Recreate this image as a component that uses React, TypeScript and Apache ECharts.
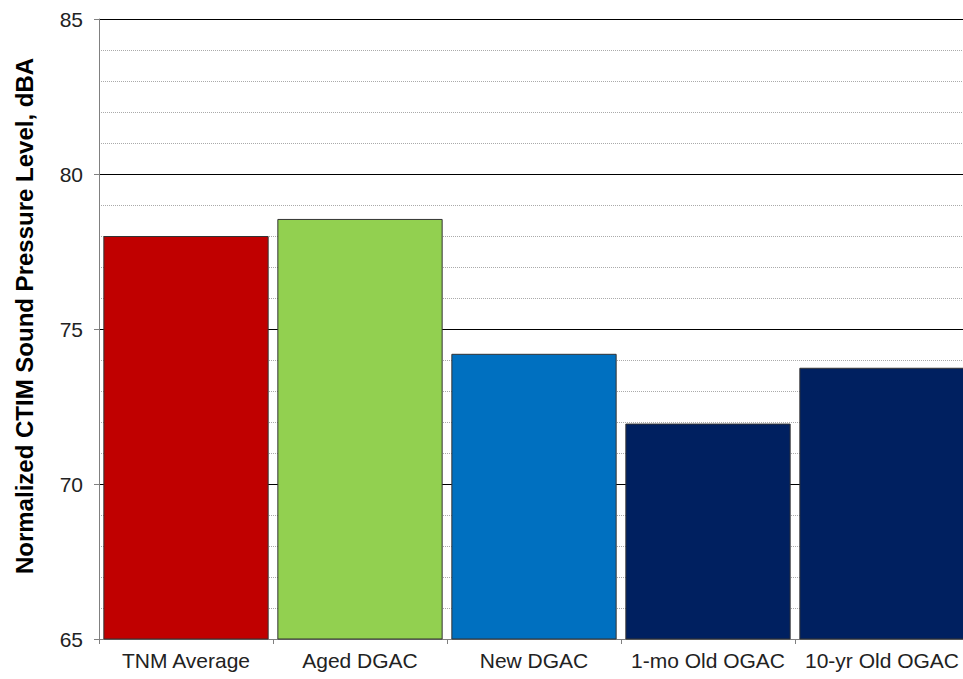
import React, { useEffect, useRef } from "react";
import * as echarts from "echarts";

const categories = ["TNM Average", "Aged DGAC", "New DGAC", "1-mo Old OGAC", "10-yr Old OGAC"];
const values = [78.0, 78.55, 74.2, 71.95, 73.75];
const barColors = ["#C00000", "#92D050", "#0070C0", "#002060", "#002060"];
const yTitle = "Normalized CTIM Sound Pressure Level, dBA";

export default function App() {
  const ref = useRef<HTMLDivElement>(null);
  useEffect(() => {
    if (!ref.current) return;
    const chart = echarts.init(ref.current, undefined, { renderer: "svg" });
    chart.setOption({
      animation: false,
      backgroundColor: "#ffffff",
      textStyle: { fontFamily: "Liberation Sans, Arial, sans-serif" },
      grid: { left: 99, right: 6, top: 19, bottom: 40, containLabel: false },
      xAxis: {
        type: "category",
        data: categories,
        axisLine: { show: true, lineStyle: { color: "#808080", width: 1 } },
        axisTick: { show: true, length: 5, lineStyle: { color: "#808080" } },
        axisLabel: { color: "#222", fontSize: 21, margin: 11, interval: 0, fontFamily: "Liberation Sans" },
      },
      yAxis: {
        type: "value",
        min: 65,
        max: 85,
        interval: 5,
        name: yTitle,
        nameLocation: "middle",
        nameGap: 63,
        nameTextStyle: { fontSize: 24, fontWeight: "bold", color: "#000", padding: [0, 0, 0, 26], fontFamily: "Liberation Sans" },
        axisLine: { show: true, lineStyle: { color: "#808080", width: 1 } },
        axisTick: { show: true, length: 5, lineStyle: { color: "#808080" } },
        axisLabel: { color: "#222", fontSize: 21, margin: 16, fontFamily: "Liberation Sans" },
        splitLine: { show: true, lineStyle: { color: "#000", width: 1 } },
        minorTick: { show: false, splitNumber: 5 },
        minorSplitLine: { show: true, lineStyle: { color: "#aaaaaa", type: "dotted", width: 1 } },
      },
      series: [
        {
          type: "bar",
          data: values.map((v, i) => ({
            value: v,
            itemStyle: { color: barColors[i], borderColor: "#333", borderWidth: 1 },
          })),
          barCategoryGap: "5%",
        },
      ],
    });
    return () => chart.dispose();
  }, []);
  return <div ref={ref} style={{ position: "fixed", left: 0, top: 0, width: 975, height: 679 }} />;
}
